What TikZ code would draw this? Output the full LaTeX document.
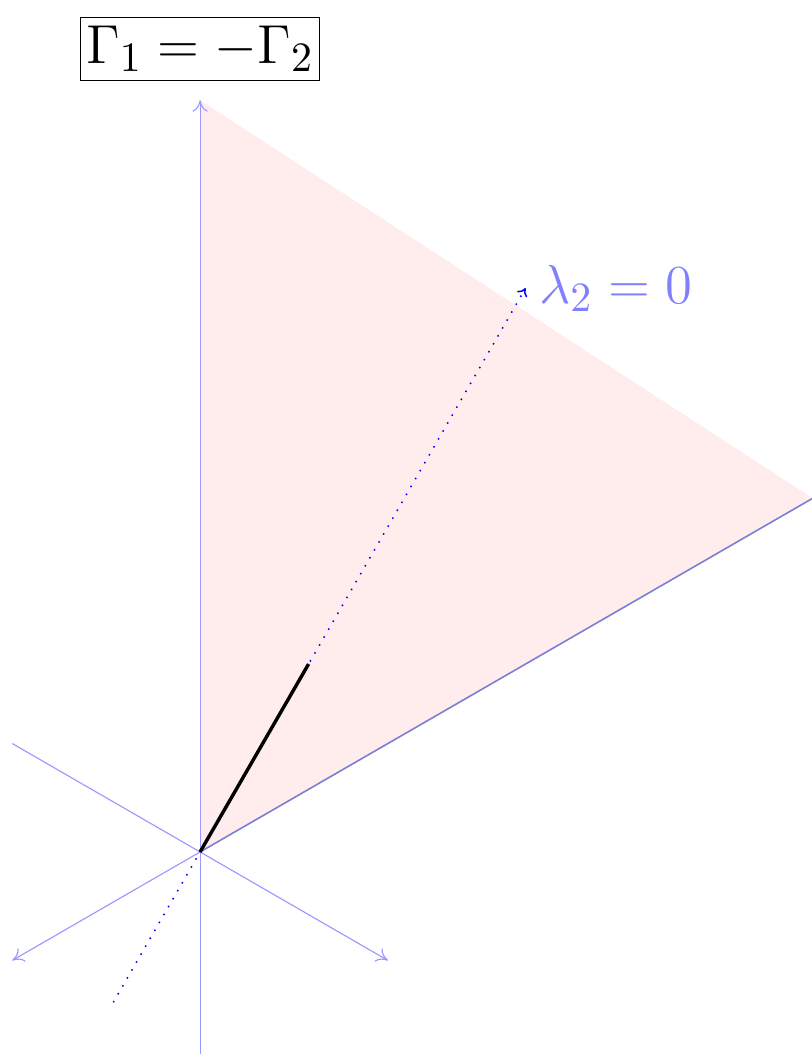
\documentclass[tikz,border=0pt]{standalone}
\usepackage{amsmath}
\usetikzlibrary{positioning,arrows.meta}

\definecolor{edgeblue}{RGB}{128,128,210}
\tikzset{
  axis/.style={blue!40, line width=0.3pt, -{To[length=3pt,width=4pt]}},
  ray/.style={blue, dotted, line width=0.4pt, -{To[length=2pt,width=3pt]}},
}

\begin{document}
\begin{tikzpicture}[scale=2]
  \useasboundingbox (-0.922,-0.931) rectangle (2.816,3.926);
  % axes and cone points
  \coordinate (O) at (0,0);
  \coordinate (Z) at (0,{2*sqrt(3)});
  \coordinate (Zb) at (0,-1);
  \coordinate (X1) at ({-sqrt(3)/2},-0.5);
  \coordinate (Y1) at ({sqrt(3)/2},-0.5);
  \coordinate (Y2) at ({-sqrt(3)/2},0.5);
  \coordinate (R) at ({3.26*sqrt(3)/2},1.63);
  \coordinate (L1) at (1.5,{1.5*sqrt(3)});
  \coordinate (L0) at (-0.4,{-0.4*sqrt(3)});
  \coordinate (B) at (0.5,{sqrt(3)/2});

  % shaded region
  \fill[red!7] (O)--(Z)--(R)--cycle;

  % axes
  \draw[axis] (Zb)--(Z);
  \draw[axis] (Y2)--(Y1);
  \draw[axis] (R)--(X1);
  \draw[edgeblue, line width=0.4pt] (O)--(R);

  % eigenvector line
  \draw[ray] (L0)--(L1);
  \draw[line width=0.9pt] (O)--(B);

  % labels
  \node[right=0pt of L1, blue!50, font=\fontsize{15}{18}\selectfont] (lab) {$\lambda_2 = 0$};
  \node[above=1.8mm of Z, draw, line width=0.3pt, inner xsep=1.5pt, inner ysep=2.2pt,
        font=\fontsize{15}{18}\selectfont] (title) {$\Gamma_1 = -\Gamma_2$};
\end{tikzpicture}
\end{document}
